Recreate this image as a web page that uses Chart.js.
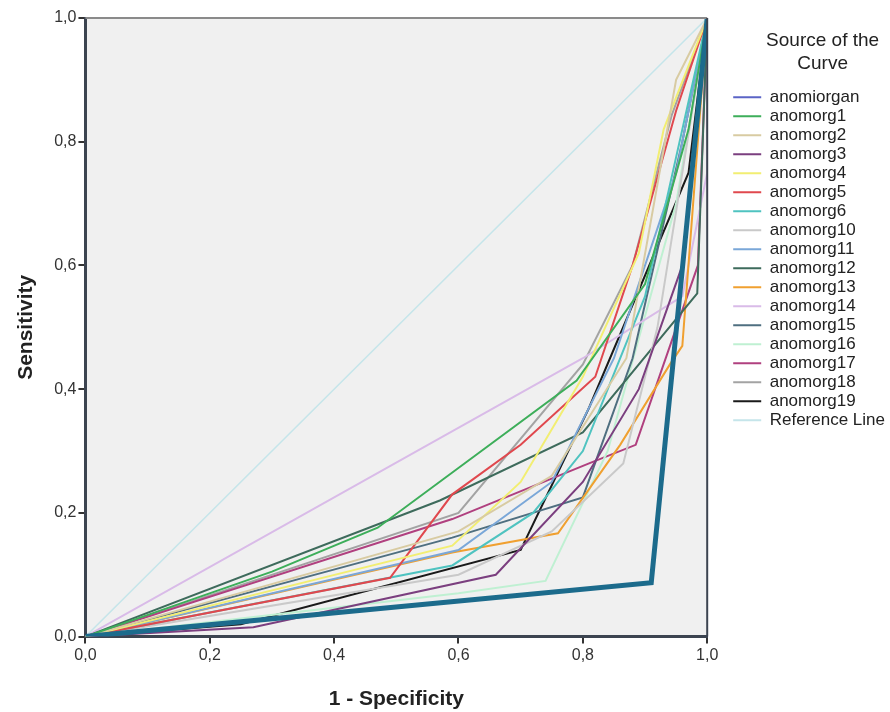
<!DOCTYPE html>
<html>
<head>
<meta charset="utf-8">
<script src="https://cdn.jsdelivr.net/npm/chart.js@4"></script>
<style>
  html, body { margin: 0; padding: 0; background: #fff; }
  #wrap { width: 890px; height: 712px; }
</style>
</head>
<body>
<div id="wrap"><canvas id="roc"></canvas></div>
<script>
// ROC points per source variable: [1 - specificity, sensitivity]
const anomiorgan = [[0, 0], [0.91, 0.087], [1, 1]];
const anomorg1 = [[0, 0], [0.3, 0.105], [0.47, 0.176], [0.79, 0.414], [0.9, 0.57], [0.97, 0.82], [1, 1]];
const anomorg2 = [[0, 0], [0.6, 0.17], [0.75, 0.26], [0.87, 0.45], [0.95, 0.9], [1, 1]];
const anomorg3 = [[0, 0], [0.27, 0.015], [0.66, 0.1], [0.8, 0.25], [0.89, 0.4], [0.96, 0.6], [1, 1]];
const anomorg4 = [[0, 0], [0.59, 0.147], [0.7, 0.25], [0.8, 0.42], [0.89, 0.62], [0.93, 0.82], [1, 1]];
const anomorg5 = [[0, 0], [0.49, 0.095], [0.59, 0.23], [0.7, 0.31], [0.82, 0.42], [0.88, 0.6], [0.95, 0.85], [1, 1]];
const anomorg6 = [[0, 0], [0.59, 0.115], [0.72, 0.2], [0.8, 0.3], [0.9, 0.55], [1, 1]];
const anomorg10 = [[0, 0], [0.6, 0.1], [0.75, 0.17], [0.865, 0.28], [0.92, 0.5], [1, 1]];
const anomorg11 = [[0, 0], [0.6, 0.14], [0.75, 0.25], [0.85, 0.45], [0.95, 0.75], [1, 1]];
const anomorg12 = [[0, 0], [0.57, 0.22], [0.8, 0.33], [0.984, 0.555], [1, 1]];
const anomorg13 = [[0, 0], [0.59, 0.136], [0.76, 0.167], [0.86, 0.31], [0.94, 0.44], [0.96, 0.47], [1, 1]];
const anomorg14 = [[0, 0], [0.8, 0.45], [0.96, 0.55], [1, 0.75], [1, 1]];
const anomorg15 = [[0, 0], [0.59, 0.16], [0.8, 0.225], [0.88, 0.45], [0.96, 0.8], [1, 1]];
const anomorg16 = [[0, 0], [0.6, 0.07], [0.74, 0.09], [0.84, 0.3], [0.95, 0.7], [1, 1]];
const anomorg17 = [[0, 0], [0.59, 0.19], [0.81, 0.28], [0.885, 0.31], [0.985, 0.6], [1, 1]];
const anomorg18 = [[0, 0], [0.6, 0.2], [0.8, 0.44], [0.88, 0.6], [0.943, 0.843], [1, 1]];
const anomorg19 = [[0, 0], [0.25, 0.02], [0.7, 0.14], [0.81, 0.37], [0.97, 0.75], [1, 1]];
const referenceLine = [[0, 0], [1, 1]];

const seriesNames = ['anomiorgan', 'anomorg1', 'anomorg2', 'anomorg3', 'anomorg4', 'anomorg5', 'anomorg6',
  'anomorg10', 'anomorg11', 'anomorg12', 'anomorg13', 'anomorg14', 'anomorg15', 'anomorg16',
  'anomorg17', 'anomorg18', 'anomorg19', 'Reference Line'];
const seriesData = [anomiorgan, anomorg1, anomorg2, anomorg3, anomorg4, anomorg5, anomorg6,
  anomorg10, anomorg11, anomorg12, anomorg13, anomorg14, anomorg15, anomorg16,
  anomorg17, anomorg18, anomorg19, referenceLine];
const lineColors = ['#1c6b8c', '#3dae5a', '#d8cba2', '#7b3f7f', '#f2ee72', '#e0484e', '#4fc3c0',
  '#c9c9c9', '#7aa7d8', '#3e6b5c', '#f0a030', '#d9bbe8', '#4f6f80', '#bff0d2',
  '#b0407f', '#a3a3a3', '#1a1a1a', '#c5e5ea'];
const legendColors = ['#5b64c6', '#3dae5a', '#d8cba2', '#7b3f7f', '#f2ee72', '#e0484e', '#4fc3c0',
  '#c9c9c9', '#7aa7d8', '#3e6b5c', '#f0a030', '#d9bbe8', '#4f6f80', '#bff0d2',
  '#b0407f', '#a3a3a3', '#1a1a1a', '#c5e5ea'];
const axisTicks = [0, 0.2, 0.4, 0.6, 0.8, 1.0];

const FONT = 'Liberation Sans, Arial, sans-serif';
const legendGap = 19;   // extra room between plot and legend
const legendShift = 24; // legend items start this far right of the widened box

const plotBackground = {
  id: 'plotBackground',
  afterInit(chart) {
    const legend = chart.legend;
    const fit = legend.fit;
    legend.fit = function () {
      fit.call(this);
      this.width += legendGap;
    };
  },
  afterLayout(chart) {
    chart.legend.left += legendShift;
  },
  beforeDraw(chart) {
    const { ctx, chartArea: a } = chart;
    ctx.save();
    ctx.fillStyle = '#f0f0f0';
    ctx.fillRect(a.left, a.top, a.right - a.left, a.bottom - a.top);
    ctx.restore();
  },
  afterDatasetsDraw(chart) {
    const { ctx, chartArea: a } = chart;
    ctx.save();
    ctx.strokeStyle = '#8a8a8a';
    ctx.lineWidth = 2;
    ctx.beginPath();
    ctx.moveTo(a.left, a.top);
    ctx.lineTo(a.right, a.top);
    ctx.stroke();
    ctx.strokeStyle = '#3c4450';
    ctx.beginPath();
    ctx.moveTo(a.right, a.top);
    ctx.lineTo(a.right, a.bottom);
    ctx.stroke();
    ctx.restore();
  }
};

const datasets = seriesNames.map((name, i) => ({
  label: name,
  data: seriesData[i].map((p) => ({ x: p[0], y: p[1] })),
  borderColor: lineColors[i],
  borderWidth: i === 0 ? 5 : (i === seriesNames.length - 1 ? 1.5 : 2),
  pointRadius: 0,
  tension: 0,
  fill: false,
  order: i === 0 ? 0 : (i === seriesNames.length - 1 ? 3 : 1)
}));

function tickText(v) {
  return v.toFixed(1).replace('.', ',');
}

function axis(titleText, titlePad) {
  return {
    type: 'linear',
    min: 0,
    max: 1,
    afterBuildTicks: (s) => { s.ticks = axisTicks.map((v) => ({ value: v })); },
    ticks: {
      callback: (v) => tickText(v),
      color: '#333',
      font: { family: FONT, size: 16 },
      padding: 2
    },
    grid: { drawOnChartArea: false, drawTicks: true, tickLength: 7, color: '#333', lineWidth: 2 },
    border: { display: true, color: '#3c4450', width: 3 },
    title: {
      display: true,
      text: titleText,
      color: '#222',
      font: { family: FONT, size: 21, weight: 'bold' },
      padding: titlePad
    }
  };
}

new Chart(document.getElementById('roc'), {
  type: 'line',
  data: { datasets: datasets },
  plugins: [plotBackground],
  options: {
    responsive: true,
    maintainAspectRatio: false,
    animation: false,
    layout: { padding: { top: 18, right: 0, left: 14, bottom: 0 } },
    scales: {
      x: axis('1 - Specificity', { top: 20, bottom: 0 }),
      y: axis('Sensitivity', { top: 0, bottom: 13 })
    },
    plugins: {
      tooltip: { enabled: false },
      legend: {
        position: 'right',
        align: 'start',
        title: {
          display: true,
          text: ['Source of the', 'Curve'],
          color: '#222',
          font: { family: FONT, size: 19 },
          padding: { top: 13, bottom: 33 }
        },
        labels: {
          boxWidth: 28,
          boxHeight: 2,
          padding: 2,
          color: '#222',
          font: { family: FONT, size: 17 },
          generateLabels: (chart) => chart.data.datasets.map((ds, i) => ({
            text: ds.label,
            fillStyle: legendColors[i],
            strokeStyle: legendColors[i],
            lineWidth: 0,
            hidden: false,
            datasetIndex: i
          }))
        }
      }
    }
  }
});
</script>
</body>
</html>
